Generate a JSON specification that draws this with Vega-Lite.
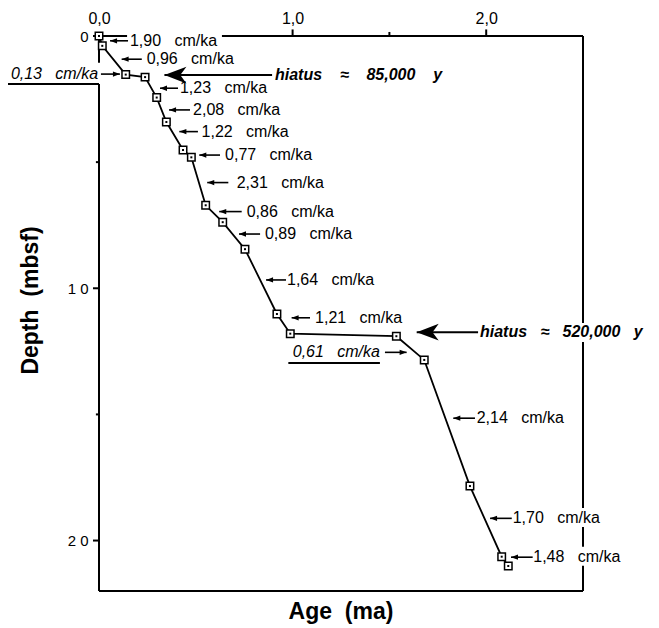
{
  "$schema": "https://vega.github.io/schema/vega-lite/v6.json",
  "width": 484,
  "height": 555,
  "autosize": "none",
  "padding": {"left": 99, "top": 36, "right": 76, "bottom": 37},
  "background": "white",
  "config": {"view": {"stroke": null}, "font": "Liberation Sans"},
  "title": {"text": "Age\u00a0\u00a0(ma)", "orient": "bottom", "anchor": "middle", "fontSize": 23, "fontWeight": "bold", "font": "Liberation Sans", "color": "black", "offset": 9},
  "resolve": {"axis": {"x": "independent", "y": "independent"}},
  "datasets": {
    "dated": [
      {"age": 0, "depth": 0},
      {"age": 0.017, "depth": 0.39},
      {"age": 0.138, "depth": 1.53},
      {"age": 0.238, "depth": 1.63},
      {"age": 0.298, "depth": 2.44},
      {"age": 0.348, "depth": 3.41},
      {"age": 0.434, "depth": 4.52},
      {"age": 0.477, "depth": 4.81},
      {"age": 0.551, "depth": 6.71},
      {"age": 0.639, "depth": 7.38},
      {"age": 0.754, "depth": 8.45},
      {"age": 0.919, "depth": 11.02},
      {"age": 0.988, "depth": 11.8},
      {"age": 1.536, "depth": 11.9},
      {"age": 1.68, "depth": 12.84},
      {"age": 1.916, "depth": 17.84},
      {"age": 2.08, "depth": 20.64},
      {"age": 2.114, "depth": 21.01}
    ],
    "notes": [
      {"kind": "rate", "label": "1,90\u00a0\u00a0\u00a0cm/ka", "tx": 0.16, "d": 0.19, "tip": 0.057, "tail": 0.15},
      {"kind": "rate", "label": "0,96\u00a0\u00a0\u00a0cm/ka", "tx": 0.246, "d": 0.92, "tip": 0.117, "tail": 0.221},
      {"kind": "rate", "label": "1,23\u00a0\u00a0\u00a0cm/ka", "tx": 0.418, "d": 2.07, "tip": 0.315, "tail": 0.408},
      {"kind": "rate", "label": "2,08\u00a0\u00a0\u00a0cm/ka", "tx": 0.486, "d": 2.93, "tip": 0.362, "tail": 0.47},
      {"kind": "rate", "label": "1,22\u00a0\u00a0\u00a0cm/ka", "tx": 0.53, "d": 3.79, "tip": 0.415, "tail": 0.511},
      {"kind": "rate", "label": "0,77\u00a0\u00a0\u00a0cm/ka", "tx": 0.651, "d": 4.72, "tip": 0.518, "tail": 0.625},
      {"kind": "rate", "label": "2,31\u00a0\u00a0\u00a0cm/ka", "tx": 0.711, "d": 5.81, "tip": 0.559, "tail": 0.668},
      {"kind": "rate", "label": "0,86\u00a0\u00a0\u00a0cm/ka", "tx": 0.763, "d": 6.96, "tip": 0.621, "tail": 0.737},
      {"kind": "rate", "label": "0,89\u00a0\u00a0\u00a0cm/ka", "tx": 0.857, "d": 7.85, "tip": 0.723, "tail": 0.832},
      {"kind": "rate", "label": "1,64\u00a0\u00a0\u00a0cm/ka", "tx": 0.971, "d": 9.67, "tip": 0.863, "tail": 0.966},
      {"kind": "rate", "label": "1,21\u00a0\u00a0\u00a0cm/ka", "tx": 1.116, "d": 11.17, "tip": 0.995, "tail": 1.09},
      {"kind": "rate", "label": "2,14\u00a0\u00a0\u00a0cm/ka", "tx": 1.951, "d": 15.15, "tip": 1.83, "tail": 1.942},
      {"kind": "rate", "label": "1,70\u00a0\u00a0\u00a0cm/ka", "tx": 2.137, "d": 19.12, "tip": 2.02, "tail": 2.132},
      {"kind": "rate", "label": "1,48\u00a0\u00a0\u00a0cm/ka", "tx": 2.243, "d": 20.66, "tip": 2.128, "tail": 2.24},
      {"kind": "gap", "label": "0,13\u00a0\u00a0\u00a0cm/ka", "tx": -0.005, "d": 1.51, "tip": 0.108, "tail": 0.01},
      {"kind": "gap", "label": "0,61\u00a0\u00a0\u00a0cm/ka", "tx": 1.451, "d": 12.54, "tip": 1.589, "tail": 1.477},
      {"kind": "hiatus", "label": "hiatus\u00a0\u00a0\u00a0\u00a0\u2248\u00a0\u00a0\u00a0\u00a085,000\u00a0\u00a0\u00a0\u00a0y", "tx": 0.909, "d": 1.55, "tip": 0.338, "tail": 0.894},
      {"kind": "hiatus", "label": "hiatus\u00a0\u00a0\u00a0\u2248\u00a0\u00a0\u00a0520,000\u00a0\u00a0\u00a0y", "tx": 1.968, "d": 11.74, "tip": 1.641, "tail": 1.958}
    ],
    "frame": [
      {"x1": 0, "x2": 0.145, "y1": 0, "y2": 0},
      {"x1": 0.635, "x2": 2.5, "y1": 0, "y2": 0},
      {"x1": 0, "x2": 0, "y1": 0, "y2": 1.06},
      {"x1": 0, "x2": 0, "y1": 1.9, "y2": 22},
      {"x1": -0.47, "x2": 0, "y1": 1.9, "y2": 1.9},
      {"x1": 0, "x2": 2.5, "y1": 22, "y2": 22},
      {"x1": 2.5, "x2": 2.5, "y1": 0, "y2": 11.38},
      {"x1": 2.5, "x2": 2.5, "y1": 12.13, "y2": 18.71},
      {"x1": 2.5, "x2": 2.5, "y1": 19.46, "y2": 20.25},
      {"x1": 2.5, "x2": 2.5, "y1": 21.0, "y2": 22},
      {"x1": 0.978, "x2": 1.451, "y1": 12.96, "y2": 12.96},
      {"x1": -0.031, "x2": 0, "y1": 0, "y2": 0},
      {"x1": -0.016, "x2": 0, "y1": 5, "y2": 5},
      {"x1": -0.031, "x2": 0, "y1": 10, "y2": 10},
      {"x1": -0.016, "x2": 0, "y1": 15, "y2": 15},
      {"x1": -0.031, "x2": 0, "y1": 20, "y2": 20},
      {"x1": 1, "x2": 1, "y1": -0.26, "y2": 0},
      {"x1": 1.5, "x2": 1.5, "y1": -0.16, "y2": 0},
      {"x1": 2, "x2": 2, "y1": -0.26, "y2": 0}
    ]
  },
  "layer": [
    {
      "data": {"name": "dated"},
      "mark": {"type": "line", "color": "black", "strokeWidth": 1.8},
      "encoding": {
        "x": {"field": "age", "type": "quantitative", "scale": {"domain": [0, 2.5], "nice": false, "zero": false},
          "axis": {"orient": "top", "values": [0, 1, 2], "domain": false, "grid": false, "title": null, "ticks": false,
            "labelExpr": "replace(format(datum.value, '.1f'), '.', ',')",
            "labelFontSize": 16, "labelColor": "black", "labelPadding": 10, "labelFlush": false, "labelOverlap": false}},
        "y": {"field": "depth", "type": "quantitative", "scale": {"domain": [0, 22], "nice": false, "reverse": true},
          "axis": {"orient": "left", "values": [0, 10, 20], "domain": false, "grid": false, "ticks": false,
            "labelExpr": "datum.value == 10 ? '1 0' : datum.value == 20 ? '2 0' : '0'",
            "labelFontSize": 15, "labelColor": "black", "labelPadding": 11, "labelOverlap": false,
            "title": "Depth\u00a0\u00a0(mbsf)", "titleFontSize": 23, "titleFontWeight": "bold", "titleColor": "black",
            "titleAngle": -90, "titleX": -57, "titleY": 264, "titleBaseline": "bottom", "titleAlign": "center"}},
        "order": {"field": "depth", "type": "quantitative"}
      }
    },
    {
      "data": {"name": "frame"},
      "mark": {"type": "rule", "color": "black", "strokeWidth": 2},
      "encoding": {
        "x": {"field": "x1", "type": "quantitative", "scale": {"domain": [0, 2.5], "nice": false, "zero": false}, "axis": null},
        "x2": {"field": "x2"},
        "y": {"field": "y1", "type": "quantitative", "scale": {"domain": [0, 22], "nice": false, "reverse": true}, "axis": null},
        "y2": {"field": "y2"}
      }
    },
    {
      "data": {"name": "notes"},
      "mark": {"type": "rule", "color": "black"},
      "encoding": {
        "x": {"field": "tip", "type": "quantitative", "scale": {"domain": [0, 2.5], "nice": false, "zero": false}, "axis": null},
        "x2": {"field": "tail"},
        "y": {"field": "d", "type": "quantitative", "scale": {"domain": [0, 22], "nice": false, "reverse": true}, "axis": null},
        "strokeWidth": {"condition": {"test": "datum.kind == 'hiatus'", "value": 2}, "value": 1.6}
      }
    },
    {
      "data": {"name": "notes"},
      "transform": [{"filter": "datum.kind == 'rate'"}],
      "mark": {"type": "point", "shape": "M0,0L1,-0.38L1,0.38Z", "size": 196, "filled": true, "color": "black", "opacity": 1},
      "encoding": {
        "x": {"field": "tip", "type": "quantitative", "scale": {"domain": [0, 2.5], "nice": false, "zero": false}, "axis": null},
        "y": {"field": "d", "type": "quantitative", "scale": {"domain": [0, 22], "nice": false, "reverse": true}, "axis": null}
      }
    },
    {
      "data": {"name": "notes"},
      "transform": [{"filter": "datum.kind == 'gap'"}],
      "mark": {"type": "point", "shape": "M0,0L-1,-0.38L-1,0.38Z", "size": 196, "filled": true, "color": "black", "opacity": 1},
      "encoding": {
        "x": {"field": "tip", "type": "quantitative", "scale": {"domain": [0, 2.5], "nice": false, "zero": false}, "axis": null},
        "y": {"field": "d", "type": "quantitative", "scale": {"domain": [0, 22], "nice": false, "reverse": true}, "axis": null}
      }
    },
    {
      "data": {"name": "notes"},
      "transform": [{"filter": "datum.kind == 'hiatus'"}],
      "mark": {"type": "point", "shape": "M0,0L1,-0.38L0.72,0L1,0.38Z", "size": 1936, "filled": true, "color": "black", "opacity": 1},
      "encoding": {
        "x": {"field": "tip", "type": "quantitative", "scale": {"domain": [0, 2.5], "nice": false, "zero": false}, "axis": null},
        "y": {"field": "d", "type": "quantitative", "scale": {"domain": [0, 22], "nice": false, "reverse": true}, "axis": null}
      }
    },
    {
      "data": {"name": "dated"},
      "mark": {"type": "point", "shape": "square", "size": 56, "filled": true, "fill": "white", "stroke": "black", "strokeWidth": 1.5, "opacity": 1},
      "encoding": {
        "x": {"field": "age", "type": "quantitative", "scale": {"domain": [0, 2.5], "nice": false, "zero": false}, "axis": null},
        "y": {"field": "depth", "type": "quantitative", "scale": {"domain": [0, 22], "nice": false, "reverse": true}, "axis": null}
      }
    },
    {
      "data": {"name": "dated"},
      "mark": {"type": "point", "shape": "square", "size": 4, "filled": true, "color": "black", "opacity": 1},
      "encoding": {
        "x": {"field": "age", "type": "quantitative", "scale": {"domain": [0, 2.5], "nice": false, "zero": false}, "axis": null},
        "y": {"field": "depth", "type": "quantitative", "scale": {"domain": [0, 22], "nice": false, "reverse": true}, "axis": null}
      }
    },
    {
      "data": {"name": "notes"},
      "transform": [{"filter": "datum.kind == 'rate'"}],
      "mark": {"type": "text", "align": "left", "baseline": "middle", "font": "Liberation Sans", "fontSize": 16, "color": "black"},
      "encoding": {
        "x": {"field": "tx", "type": "quantitative", "scale": {"domain": [0, 2.5], "nice": false, "zero": false}, "axis": null},
        "y": {"field": "d", "type": "quantitative", "scale": {"domain": [0, 22], "nice": false, "reverse": true}, "axis": null},
        "text": {"field": "label"}
      }
    },
    {
      "data": {"name": "notes"},
      "transform": [{"filter": "datum.kind == 'gap'"}],
      "mark": {"type": "text", "align": "right", "baseline": "middle", "font": "Liberation Sans", "fontSize": 16, "fontStyle": "italic", "color": "black"},
      "encoding": {
        "x": {"field": "tx", "type": "quantitative", "scale": {"domain": [0, 2.5], "nice": false, "zero": false}, "axis": null},
        "y": {"field": "d", "type": "quantitative", "scale": {"domain": [0, 22], "nice": false, "reverse": true}, "axis": null},
        "text": {"field": "label"}
      }
    },
    {
      "data": {"name": "notes"},
      "transform": [{"filter": "datum.kind == 'hiatus'"}],
      "mark": {"type": "text", "align": "left", "baseline": "middle", "font": "Liberation Sans", "fontSize": 16, "fontStyle": "italic", "fontWeight": "bold", "color": "black"},
      "encoding": {
        "x": {"field": "tx", "type": "quantitative", "scale": {"domain": [0, 2.5], "nice": false, "zero": false}, "axis": null},
        "y": {"field": "d", "type": "quantitative", "scale": {"domain": [0, 22], "nice": false, "reverse": true}, "axis": null},
        "text": {"field": "label"}
      }
    }
  ]
}
